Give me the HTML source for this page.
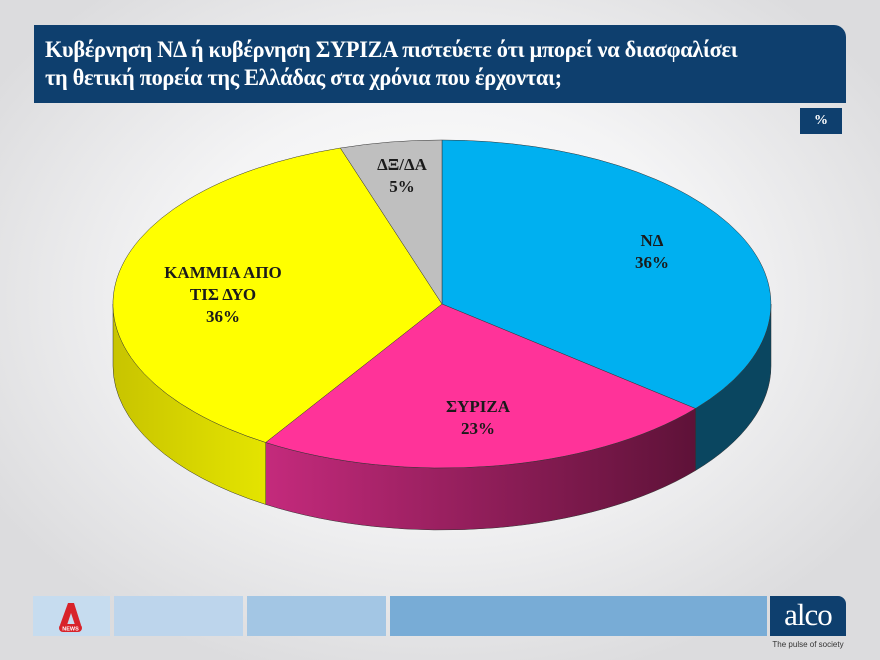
<!DOCTYPE html>
<html><head><meta charset="utf-8"><style>
html,body{margin:0;padding:0}
body{width:880px;height:660px;overflow:hidden;position:relative;font-family:"Liberation Serif",serif;
background:radial-gradient(ellipse 60% 60% at 50% 45%,#ffffff 0%,#f4f4f5 50%,#dcdcde 100%);}
.hdr{position:absolute;left:34px;top:25px;width:812px;height:78px;background:#0e3f6e;border-top-right-radius:12px;}
.hdr div{position:absolute;left:11px;top:11px;color:#fff;font-weight:bold;font-size:23px;line-height:28px;letter-spacing:-0.3px;transform:scaleX(0.97);transform-origin:left top;white-space:nowrap}
.pct{position:absolute;left:800px;top:108px;width:42px;height:26px;background:#0e3f6e;color:#fff;font-weight:bold;font-size:14px;text-align:center;line-height:26px}
.b{position:absolute;top:596px;height:40px}
</style></head><body>
<div class="hdr"><div>Κυβέρνηση ΝΔ ή κυβέρνηση ΣΥΡΙΖΑ πιστεύετε ότι μπορεί να διασφαλίσει<br>τη θετική πορεία της Ελλάδας στα χρόνια που έρχονται;</div></div>
<div class="pct">%</div>
<svg id="pie" width="880" height="660" style="position:absolute;left:0;top:0">
<defs>
<linearGradient id="gs" x1="0" x2="1"><stop offset="0" stop-color="#c42a7c"/><stop offset="1" stop-color="#5e1238"/></linearGradient>
<linearGradient id="gy" x1="0" x2="1"><stop offset="0" stop-color="#c8c400"/><stop offset="1" stop-color="#e4e400"/></linearGradient>
</defs>
<g id="g"></g>
<g font-family="Liberation Serif,serif" font-weight="bold" font-size="17" fill="#1a1a1a" text-anchor="middle">
<text x="652" y="246">ΝΔ</text><text x="652" y="268">36%</text>
<text x="478" y="412">ΣΥΡΙΖΑ</text><text x="478" y="434">23%</text>
<text x="223" y="278">ΚΑΜΜΙΑ ΑΠΟ</text><text x="223" y="300">ΤΙΣ ΔΥΟ</text><text x="223" y="322">36%</text>
<text x="402" y="170">ΔΞ/ΔΑ</text><text x="402" y="192">5%</text>
</g>
</svg>
<div class="b" style="left:33px;width:77px;background:#c6dcef"></div>
<svg style="position:absolute;left:57px;top:601px" width="28" height="32"><path d="M3 24 L11 2 L17 2 L24 24 L18 24 L14 12 L10 24Z" fill="#d8232a"/><rect x="2" y="23" width="23" height="8" rx="4" fill="#d8232a"/><text x="13.5" y="29.5" font-size="5.5" fill="#fff" text-anchor="middle" font-family="Liberation Sans" font-weight="bold">NEWS</text></svg>
<div class="b" style="left:114px;width:129px;background:#bdd5ec"></div>
<div class="b" style="left:247px;width:139px;background:#a3c6e4"></div>
<div class="b" style="left:390px;width:377px;background:#78acd6"></div>
<div class="b" style="left:770px;width:76px;background:#0e3f6e;border-top-right-radius:8px;color:#fff;font-size:31px;text-align:center;line-height:38px;letter-spacing:-1px">alco</div>
<div style="position:absolute;left:770px;top:640px;width:76px;text-align:center;font-family:'Liberation Sans',sans-serif;font-size:8px;color:#333">The pulse of society</div>
<script>
var cx=442,cy=304,rx=329,ry=164,d=62,g=document.getElementById('g');
function P(t,dy){t=t*Math.PI/180;return [cx+rx*Math.sin(t),cy-ry*Math.cos(t)+(dy||0)];}
function arc(a,b,dy){var p=P(b,dy);return 'A'+rx+' '+ry+' 0 '+((b-a)>180?1:0)+' 1 '+p[0].toFixed(1)+' '+p[1].toFixed(1);}
function add(dd,f){var e=document.createElementNS('http://www.w3.org/2000/svg','path');e.setAttribute('d',dd);e.setAttribute('fill',f);e.setAttribute('stroke','#333');e.setAttribute('stroke-width','0.5');g.appendChild(e);}
function side(a,b,f){a=Math.max(a,90);b=Math.min(b,270);if(b<=a)return;var p=P(a),q=P(b,d);
add('M'+p[0]+' '+p[1]+arc(a,b)+'L'+q[0]+' '+q[1]+'A'+rx+' '+ry+' 0 0 0 '+P(a,d).join(' ')+'Z',f);}
var s=[[0,129.6,'#00b0f0','#0a4660'],[129.6,212.4,'#ff3399','url(#gs)'],[212.4,342,'#ffff00','url(#gy)'],[342,360,'#bfbfbf','#999']];
s.forEach(function(x){side(x[0],x[1],x[3]);});
s.forEach(function(x){var p=P(x[0]);add('M'+cx+' '+cy+'L'+p[0]+' '+p[1]+arc(x[0],x[1])+'Z',x[2]);});
</script>
</body></html>
